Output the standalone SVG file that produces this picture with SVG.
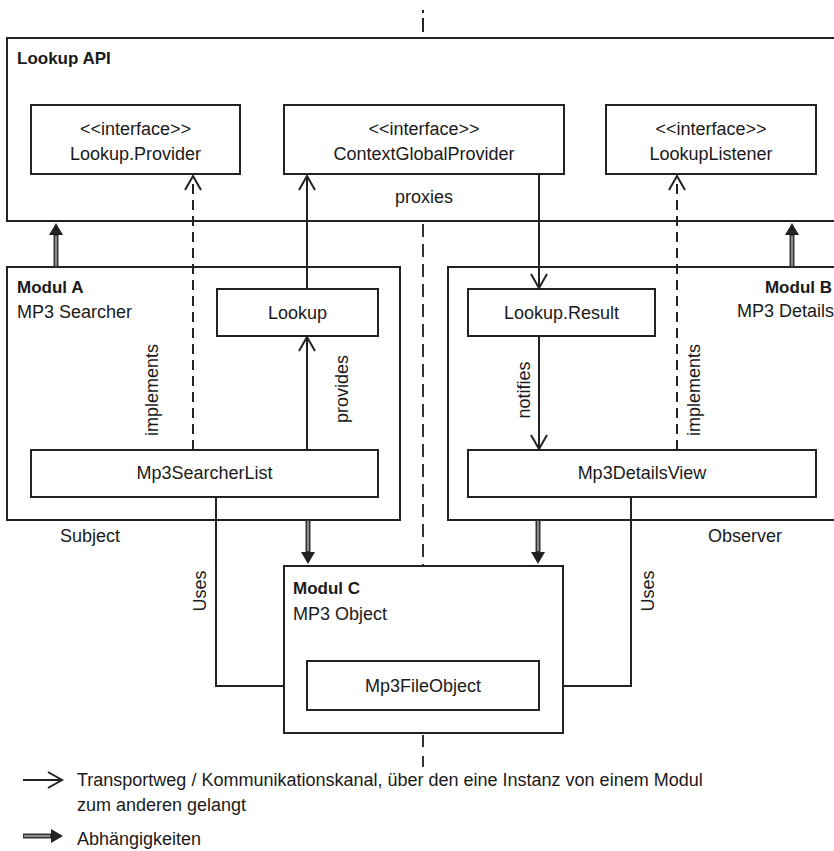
<svg xmlns="http://www.w3.org/2000/svg" width="834" height="851" viewBox="0 0 834 851">
<style>
  text { font-family: "Liberation Sans", Arial, sans-serif; font-size: 18px; fill: #1a1a1a; }
  .b { font-weight: bold; font-size: 17px; }
  .c { text-anchor: middle; }
  .r { text-anchor: end; }
  .box { fill: #fff; stroke: #222; stroke-width: 2; }
  .ln { fill: none; stroke: #222; stroke-width: 2; }
  .dash { fill: none; stroke: #222; stroke-width: 2; stroke-dasharray: 10 6; }
  .sep { fill: none; stroke: #333; stroke-width: 2; stroke-dasharray: 13 7; }
  .dep { fill: none; stroke: #333; stroke-width: 5; }
  .depin { fill: none; stroke: #aaa; stroke-width: 1.5; }
</style>
<defs>
  <marker id="open" markerUnits="userSpaceOnUse" viewBox="-16 -10 18 20" refX="0" refY="0" markerWidth="18" markerHeight="20" orient="auto" overflow="visible">
    <path d="M-14,-8 L0,0 L-14,8" fill="none" stroke="#222" stroke-width="2"/>
  </marker>
  <marker id="filled" markerUnits="userSpaceOnUse" viewBox="0 -8 13 16" refX="0" refY="0" markerWidth="13" markerHeight="16" orient="auto" overflow="visible">
    <path d="M0,-7 L12,0 L0,7 Z" fill="#222"/>
  </marker>
</defs>
<rect width="834" height="851" fill="#fff"/>

<g id="separator">
  <line x1="423" y1="10" x2="423" y2="13" class="ln"/>
  <line x1="423" y1="18" x2="423" y2="32" class="ln"/>
  <line x1="423" y1="224" x2="423" y2="565" class="sep"/>
  <line x1="423" y1="735" x2="423" y2="767" class="sep" style="stroke-dasharray:12 9"/>
</g>

<g id="lookup-api">
  <rect x="7" y="38" width="840" height="183" class="box"/>
  <text x="17" y="64" class="b">Lookup API</text>
  <text x="424" y="203" class="c">proxies</text>
</g>
<g id="lookup-provider">
  <rect x="31" y="105" width="209" height="69" class="box"/>
  <text x="135.5" y="135" class="c">&lt;&lt;interface&gt;&gt;</text>
  <text x="135.5" y="160" class="c">Lookup.Provider</text>
</g>
<g id="context-global-provider">
  <rect x="284" y="105" width="280" height="69" class="box"/>
  <text x="424" y="135" class="c">&lt;&lt;interface&gt;&gt;</text>
  <text x="424" y="160" class="c">ContextGlobalProvider</text>
</g>
<g id="lookup-listener">
  <rect x="606" y="105" width="210" height="69" class="box"/>
  <text x="711" y="135" class="c">&lt;&lt;interface&gt;&gt;</text>
  <text x="711" y="160" class="c">LookupListener</text>
</g>

<g id="modul-a">
  <rect x="7" y="267" width="393" height="253" class="box"/>
  <text x="17" y="293" class="b">Modul A</text>
  <text x="17" y="318">MP3 Searcher</text>
  <text x="60" y="542">Subject</text>
</g>
<g id="lookup">
  <rect x="217" y="289" width="161" height="47" class="box"/>
  <text x="297.5" y="319" class="c">Lookup</text>
</g>
<g id="mp3-searcher-list">
  <rect x="31" y="450" width="347" height="47" class="box"/>
  <text x="204.5" y="479" class="c">Mp3SearcherList</text>
</g>

<g id="modul-b">
  <rect x="448" y="267" width="400" height="253" class="box"/>
  <text x="832" y="293" class="b r">Modul B</text>
  <text x="834" y="317" class="r">MP3 Details</text>
  <text x="782" y="542" class="r">Observer</text>
</g>
<g id="lookup-result">
  <rect x="468" y="289" width="187" height="47" class="box"/>
  <text x="561.5" y="319" class="c">Lookup.Result</text>
</g>
<g id="mp3-details-view">
  <rect x="468" y="450" width="348" height="47" class="box"/>
  <text x="642" y="479" class="c">Mp3DetailsView</text>
</g>

<g id="modul-c">
  <rect x="284" y="566" width="279" height="167" class="box"/>
  <text x="293" y="594" class="b">Modul C</text>
  <text x="293" y="620">MP3 Object</text>
</g>
<g id="mp3-file-object">
  <rect x="307" y="661" width="232" height="49" class="box"/>
  <text x="423" y="692" class="c">Mp3FileObject</text>
</g>

<g id="connectors">
  <line x1="193" y1="450" x2="193" y2="176" class="dash" marker-end="url(#open)"/>
  <line x1="307" y1="450" x2="307" y2="337" class="ln" marker-end="url(#open)"/>
  <line x1="307" y1="289" x2="307" y2="176" class="ln" marker-end="url(#open)"/>
  <line x1="539" y1="174" x2="539" y2="288" class="ln" marker-end="url(#open)"/>
  <line x1="539" y1="336" x2="539" y2="449" class="ln" marker-end="url(#open)"/>
  <line x1="677" y1="450" x2="677" y2="176" class="dash" marker-end="url(#open)"/>
  <polyline points="216,497 216,686 284,686" class="ln"/>
  <polyline points="631,497 631,686 563,686" class="ln"/>

  <line x1="56" y1="267" x2="56" y2="235" class="dep" marker-end="url(#filled)"/>
  <line x1="56" y1="266" x2="56" y2="236" class="depin"/>
  <line x1="792" y1="267" x2="792" y2="235" class="dep" marker-end="url(#filled)"/>
  <line x1="792" y1="266" x2="792" y2="236" class="depin"/>
  <line x1="308" y1="520" x2="308" y2="552" class="dep" marker-end="url(#filled)"/>
  <line x1="308" y1="521" x2="308" y2="551" class="depin"/>
  <line x1="538" y1="520" x2="538" y2="552" class="dep" marker-end="url(#filled)"/>
  <line x1="538" y1="521" x2="538" y2="551" class="depin"/>

  <text transform="translate(158,390) rotate(-90)" class="c">implements</text>
  <text transform="translate(348,389) rotate(-90)" class="c">provides</text>
  <text transform="translate(530,390) rotate(-90)" class="c">notifies</text>
  <text transform="translate(700,390) rotate(-90)" class="c">implements</text>
  <text transform="translate(206,591) rotate(-90)" class="c">Uses</text>
  <text transform="translate(654,591) rotate(-90)" class="c">Uses</text>
</g>

<g id="legend">
  <line x1="23" y1="780" x2="62" y2="780" class="ln" marker-end="url(#open)"/>
  <text x="77" y="786">Transportweg / Kommunikationskanal, über den eine Instanz von einem Modul</text>
  <text x="77" y="811">zum anderen gelangt</text>
  <line x1="23" y1="836" x2="51" y2="836" class="dep" marker-end="url(#filled)"/>
  <line x1="24" y1="836" x2="50" y2="836" class="depin"/>
  <text x="77" y="845">Abhängigkeiten</text>
</g>
</svg>
